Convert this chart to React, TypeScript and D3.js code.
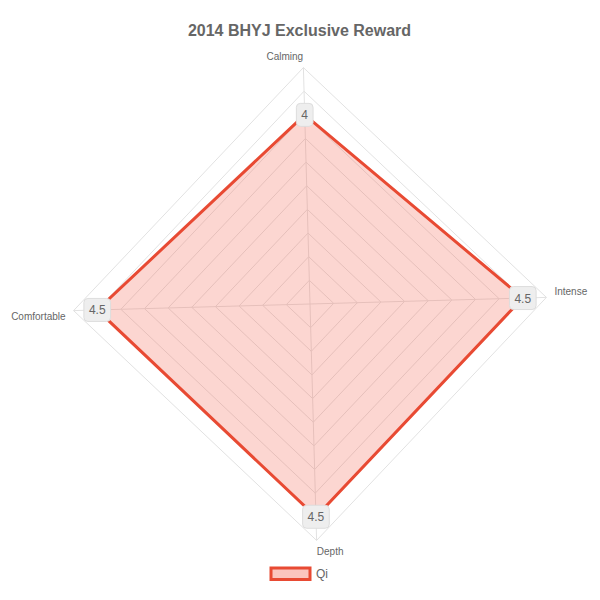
import { useEffect, useRef } from "react";
import * as d3 from "d3";

const title = "2014 BHYJ Exclusive Reward";
const axes = ["Calming", "Intense", "Depth", "Comfortable"];
const seriesName = "Qi";
const values = [4, 4.5, 4.5, 4.5];
const maxValue = 5;
const ringStep = 0.5;

export default function App() {
  const ref = useRef<SVGSVGElement>(null);

  useEffect(() => {
    document.body.style.margin = "0";
    if (!ref.current) return;
    const svg = d3.select(ref.current);
    svg.selectAll("*").remove();

    const width = 600;
    const height = 600;
    const cx = 310;
    const cy = 304;
    const R = 236.5;
    const rot = (-1.6 * Math.PI) / 180;
    const font = "'Liberation Sans', Arial, Helvetica, sans-serif";

    const r = d3.scaleLinear().domain([0, maxValue]).range([0, R]);
    const angle = (i: number) => rot + (i * 2 * Math.PI) / axes.length;
    const px = (i: number, v: number) => cx + r(v) * Math.sin(angle(i));
    const py = (i: number, v: number) => cy - r(v) * Math.cos(angle(i));

    svg.attr("width", width).attr("height", height).style("display", "block");
    svg.append("rect").attr("width", width).attr("height", height).attr("fill", "#fff");

    // title
    svg
      .append("text")
      .attr("x", 299.5)
      .attr("y", 36)
      .attr("text-anchor", "middle")
      .attr("font-family", font)
      .attr("font-size", 16)
      .attr("font-weight", "bold")
      .attr("fill", "#666")
      .text(title);

    const g = svg.append("g");

    // grid rings
    const rings = d3.range(ringStep, maxValue + ringStep / 2, ringStep);
    const ringLine = d3
      .lineRadial<number>()
      .angle((_, i) => angle(i))
      .radius((d) => r(d))
      .curve(d3.curveLinearClosed);

    g.selectAll(".ring")
      .data(rings)
      .enter()
      .append("path")
      .attr("class", "ring")
      .attr("transform", `translate(${cx},${cy})`)
      .attr("d", (v) => ringLine(axes.map(() => v)))
      .attr("fill", "none")
      .attr("stroke", "#e2e2e2")
      .attr("stroke-width", 1);

    // spokes
    g.selectAll(".spoke")
      .data(axes)
      .enter()
      .append("line")
      .attr("x1", cx)
      .attr("y1", cy)
      .attr("x2", (_, i) => px(i, maxValue))
      .attr("y2", (_, i) => py(i, maxValue))
      .attr("stroke", "#e2e2e2")
      .attr("stroke-width", 1);

    // axis labels
    g.selectAll(".axis-label")
      .data(axes)
      .enter()
      .append("text")
      .attr("font-family", font)
      .attr("font-size", 10)
      .attr("fill", "#666")
      .attr("text-anchor", (_, i) => (Math.sin(angle(i)) >= 0 ? "start" : "end"))
      .attr("x", (_, i) => cx + (R + 8) * Math.sin(angle(i)))
      .attr("y", (_, i) => {
        const c = Math.cos(angle(i));
        const s = Math.sin(angle(i));
        const y = cy - (R + 8) * c;
        if (c > 0.5) return y;
        if (c < -0.5) return y + 7;
        return y + 3.5 - 6 * Math.sign(s);
      })
      .text((d) => d);

    // data polygon
    const area = d3
      .lineRadial<number>()
      .angle((_, i) => angle(i))
      .radius((d) => r(d))
      .curve(d3.curveLinearClosed);

    g.append("path")
      .attr("transform", `translate(${cx},${cy})`)
      .attr("d", area(values))
      .attr("fill", "rgba(244, 90, 70, 0.25)")
      .attr("stroke", "#e84a33")
      .attr("stroke-width", 3)
      .attr("stroke-linejoin", "miter");

    // value labels
    values.forEach((v, i) => {
      const x = px(i, v);
      const y = py(i, v);
      const lg = g.append("g");
      const box = lg.append("rect");
      const t = lg
        .append("text")
        .attr("x", x)
        .attr("y", y + 4.5)
        .attr("text-anchor", "middle")
        .attr("font-family", font)
        .attr("font-size", 12)
        .attr("fill", "#666")
        .text(String(v));
      const w = (t.node() as SVGTextElement).getComputedTextLength() + 10;
      box
        .attr("x", x - w / 2)
        .attr("y", y - 11.5)
        .attr("width", w)
        .attr("height", 23)
        .attr("rx", 4)
        .attr("fill", "#eeeeee")
        .attr("stroke", "#dddddd")
        .attr("stroke-width", 1);
    });

    // legend
    const leg = svg.append("g");
    leg
      .append("rect")
      .attr("x", 271)
      .attr("y", 568)
      .attr("width", 39)
      .attr("height", 11.5)
      .attr("fill", "rgba(244, 90, 70, 0.35)")
      .attr("stroke", "#e84a33")
      .attr("stroke-width", 3);
    leg
      .append("text")
      .attr("x", 316)
      .attr("y", 578)
      .attr("font-family", font)
      .attr("font-size", 12)
      .attr("fill", "#666")
      .text(seriesName);
  }, []);

  return <svg ref={ref}></svg>;
}
